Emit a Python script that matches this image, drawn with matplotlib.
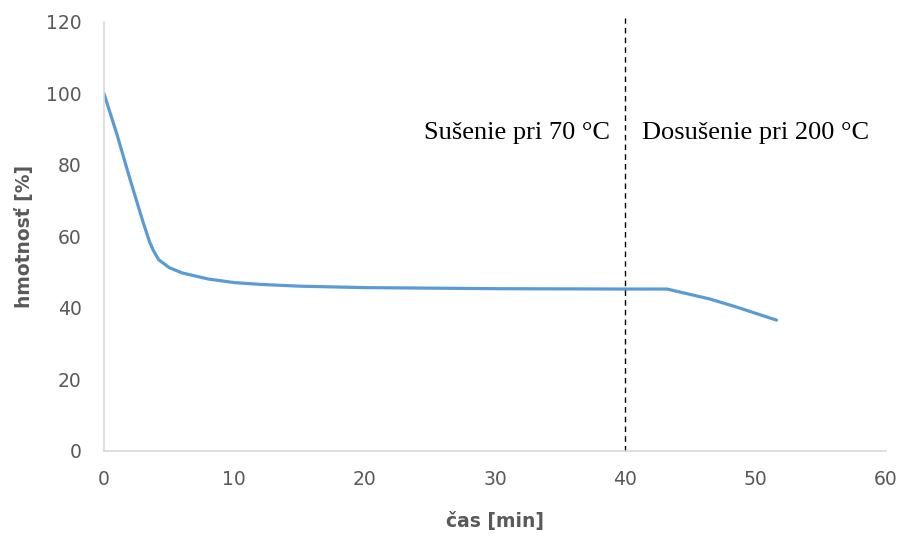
import numpy as np
import matplotlib.pyplot as plt

# time [min] and mass [%]
cas = [0, 1, 2, 3, 3.5, 3.8, 4.2, 5, 6, 8, 10, 12, 15, 20, 30, 40, 43.2, 46.5, 48.5, 51.6]
hmotnost = [100, 88.5, 76, 64, 58.5, 56, 53.5, 51.3, 49.8, 48.1, 47.1, 46.6, 46.1, 45.7, 45.4, 45.3, 45.3, 42.5, 40.3, 36.6]

hranica = 40
popis_lavy = "Sušenie pri 70 °C"
popis_pravy = "Dosušenie pri 200 °C"

fig = plt.figure(figsize=(9.08, 5.36), dpi=100)
ax = fig.add_axes([0.1145, 0.1586, 0.8613, 0.8004])

ax.plot(cas, hmotnost, color="#5B9BD5", lw=2.3, solid_capstyle="round", solid_joinstyle="round")
ax.axvline(hranica, ymax=1.01, clip_on=False, color="black", lw=1, ls=(0, (4, 3)))

ax.text(38.8, 89, popis_lavy, ha="right", va="center", family="Liberation Serif", fontsize=19)
ax.text(41.3, 89, popis_pravy, ha="left", va="center", family="Liberation Serif", fontsize=19)

ax.set_xlim(0, 60)
ax.set_ylim(0, 120)
ax.set_xticks(range(0, 61, 10))
ax.set_yticks(range(0, 121, 20))
ax.tick_params(length=0, labelsize=13.5, labelcolor="#595959")
ax.tick_params(axis="x", pad=14)
ax.tick_params(axis="y", pad=16)
for s in ["top", "right"]:
    ax.spines[s].set_visible(False)
for s in ["left", "bottom"]:
    ax.spines[s].set_color("#D9D9D9")
    ax.spines[s].set_linewidth(1.2)

ax.set_xlabel("čas [min]", fontsize=13.5, fontweight="bold", color="#595959", labelpad=16)
ax.set_ylabel("hmotnosť [%]", fontsize=13.5, fontweight="bold", color="#595959", labelpad=9)

fig.savefig("out.png", dpi=100)
